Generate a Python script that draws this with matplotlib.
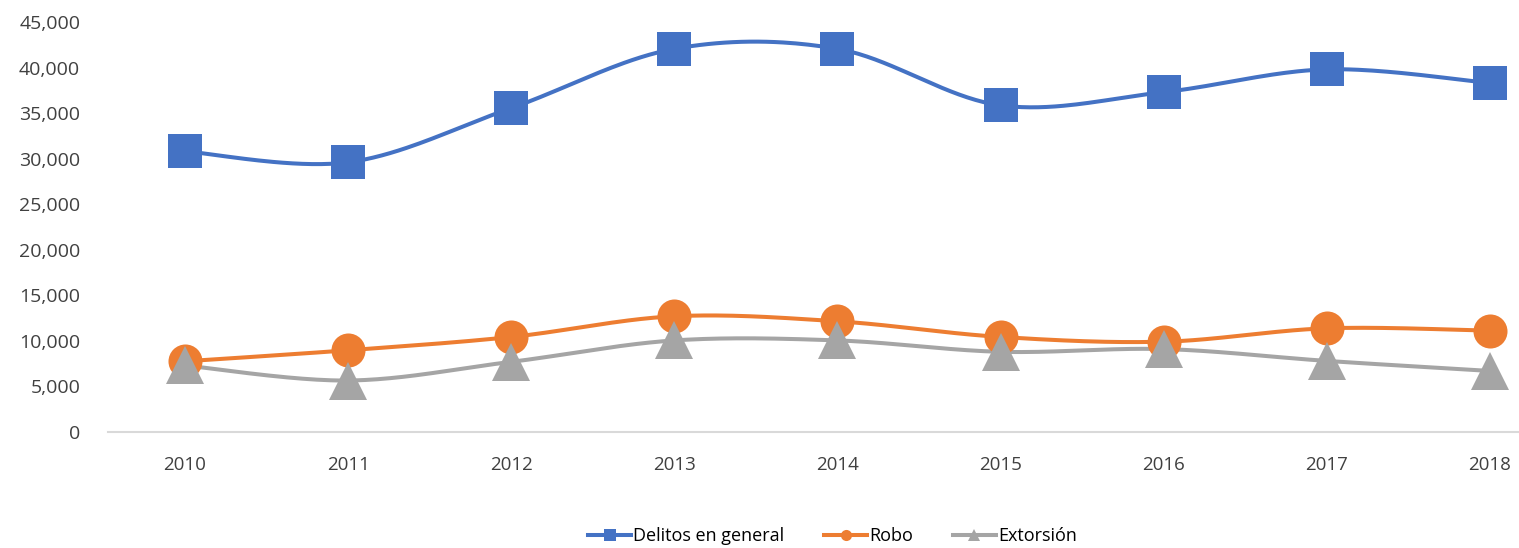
import numpy as np
import matplotlib
matplotlib.use("Agg")
from matplotlib import pyplot as plt
from matplotlib.lines import Line2D
from matplotlib.ticker import FuncFormatter

years = ['2010', '2011', '2012', '2013', '2014', '2015', '2016', '2017', '2018']
delitos = [30800, 29600, 35550, 42050, 42050, 35850, 37300, 39800, 38300]
robo = [7760, 8970, 10430, 12700, 12150, 10430, 9910, 11380, 11120]
extorsion = [7300, 5650, 7700, 10050, 10050, 8800, 9100, 7800, 6700]

plt.rcParams['font.family'] = ['Open Sans', 'DejaVu Sans']


def smooth(x, y, n=40):
    # excel-like smoothed line (catmull-rom as cubic bezier)
    x = np.asarray(x, float)
    y = np.asarray(y, float)
    px = np.concatenate([[x[0]], x, [x[-1]]])
    py = np.concatenate([[y[0]], y, [y[-1]]])
    xs, ys = [], []
    t = np.linspace(0, 1, n)
    for i in range(1, len(px) - 2):
        p0 = np.array([px[i], py[i]])
        p3 = np.array([px[i + 1], py[i + 1]])
        c1 = p0 + (p3 - np.array([px[i - 1], py[i - 1]])) / 6
        c2 = p3 - (np.array([px[i + 2], py[i + 2]]) - p0) / 6
        b = ((1 - t) ** 3)[:, None] * p0 + (3 * (1 - t) ** 2 * t)[:, None] * c1 \
            + (3 * (1 - t) * t ** 2)[:, None] * c2 + (t ** 3)[:, None] * p3
        xs.extend(b[:, 0])
        ys.extend(b[:, 1])
    return xs, ys


fig = plt.figure(figsize=(15.19, 5.48), dpi=100)
ax = fig.add_axes([0.0711, 0.2117, 0.9289, 0.7482])

xi = np.arange(len(years))
series = [
    (delitos, '#4472C4', 's', 24.5, 'Delitos en general'),
    (robo, '#ED7D31', 'o', 24.5, 'Robo'),
    (extorsion, '#A5A5A5', '^', 27.5, 'Extorsión'),
]
handles = []
for vals, col, mk, ms, lab in series:
    sx, sy = smooth(xi, vals)
    ax.plot(sx, sy, color=col, lw=2.9, solid_capstyle='round', zorder=2)
    ax.plot(xi, vals, linestyle='none', marker=mk, markersize=ms, color=col,
            markeredgewidth=0, zorder=3)
    handles.append(Line2D([], [], color=col, lw=2.9, marker=mk, markersize=8,
                          markeredgewidth=0, label=lab))

ax.set_xlim(-0.472, 8.178)
ax.set_ylim(0, 45000)
ax.set_yticks(np.arange(0, 45001, 5000))
ax.yaxis.set_major_formatter(FuncFormatter(lambda v, p: f'{int(v):,}'))
ax.set_xticks(xi)
ax.set_xticklabels(years)

for s in ['top', 'right', 'left']:
    ax.spines[s].set_visible(False)
ax.spines['bottom'].set_color('#D9D9D9')
ax.spines['bottom'].set_linewidth(1.5)
ax.tick_params(axis='both', length=0, labelsize=13.5, colors='#404040')
ax.tick_params(axis='y', labelsize=14)
ax.tick_params(axis='x', pad=17)
ax.tick_params(axis='y', pad=20)

fig.legend(handles=handles, loc='center', bbox_to_anchor=(0.548, 0.022),
           ncol=3, frameon=False, fontsize=13, handlelength=2.4,
           columnspacing=2.2, handletextpad=0.1, labelcolor='#000000')

fig.savefig('out.png', dpi=100, facecolor='white')
